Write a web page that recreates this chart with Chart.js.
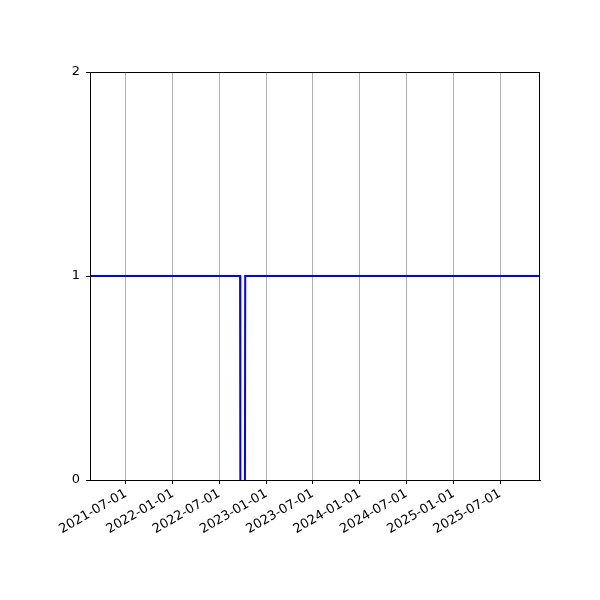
<!DOCTYPE html>
<html>
<head>
<meta charset="utf-8">
<script src="https://cdn.jsdelivr.net/npm/chart.js@4/dist/chart.umd.min.js"></script>
<style>
  html, body { margin: 0; padding: 0; background: #fff; }
  #wrap { width: 600px; height: 600px; }
</style>
</head>
<body>
<div id="wrap"><canvas id="chart"></canvas></div>
<script>
// series: status flag over time (1 = up, 0 = down); null = no sample
const dates = ['2021-02-11', '2022-09-20', '2022-09-21', '2022-09-30', '2022-10-09', '2022-10-10', '2025-12-04'];
const values = [1, 1, 0, null, 0, 1, 1];

const tickLabels = ['2021-07-01', '2022-01-01', '2022-07-01', '2023-01-01', '2023-07-01',
                    '2024-01-01', '2024-07-01', '2025-01-01', '2025-07-01'];
const yTicks = [0, 1, 2];

const xMin = '2021-02-11';
const xMax = '2025-12-04';

function toMs(s) { return Date.parse(s + 'T00:00:00Z'); }
function fmt(ms) { return new Date(ms).toISOString().slice(0, 10); }

Chart.defaults.font.family = "'DejaVu Sans', sans-serif";
Chart.defaults.font.size = 13;
Chart.defaults.color = '#000';

// box around the plot area, like matplotlib spines
const frame = {
    id: 'frame',
    afterDatasetsDraw(chart) {
        const { ctx, chartArea: a } = chart;
        ctx.save();
        ctx.strokeStyle = '#000';
        ctx.lineWidth = 1;
        ctx.strokeRect(a.left + 0.5, a.top + 0.5, a.right - a.left - 1, a.bottom - a.top);
        ctx.restore();
    }
};

const ctx = document.getElementById('chart').getContext('2d');
new Chart(ctx, {
    type: 'line',
    data: {
        datasets: [{
            data: dates.map((d, i) => ({ x: toMs(d), y: values[i] })),
            borderColor: '#0000ff',
            borderWidth: 2,
            pointRadius: 0,
            tension: 0,
            spanGaps: false,
            fill: false
        }]
    },
    options: {
        responsive: true,
        maintainAspectRatio: false,
        animation: false,
        layout: { padding: { left: 0, right: 60, top: 72, bottom: 0 } },
        plugins: { legend: { display: false }, tooltip: { enabled: false } },
        scales: {
            x: {
                type: 'linear',
                min: toMs(xMin),
                max: toMs(xMax),
                afterBuildTicks: (scale) => {
                    scale.ticks = tickLabels.map(t => ({ value: toMs(t) }));
                },
                afterFit: (scale) => { scale.height = 120; },
                ticks: {
                    callback: (v) => fmt(v),
                    maxRotation: 30,
                    minRotation: 30,
                    autoSkip: false,
                    padding: 2,
                    color: '#000'
                },
                grid: {
                    color: '#b0b0b0',
                    lineWidth: 1,
                    tickColor: '#000',
                    tickLength: 4
                },
                border: { display: true, color: '#000' }
            },
            y: {
                min: 0,
                max: 2,
                afterBuildTicks: (scale) => {
                    scale.ticks = yTicks.map(v => ({ value: v }));
                },
                afterFit: (scale) => { scale.width = 90; },
                ticks: { padding: 6, color: '#000' },
                grid: {
                    drawOnChartArea: false,
                    drawTicks: true,
                    tickColor: '#000',
                    tickLength: 4
                },
                border: { display: true, color: '#000' }
            }
        }
    },
    plugins: [frame]
});
</script>
</body>
</html>
